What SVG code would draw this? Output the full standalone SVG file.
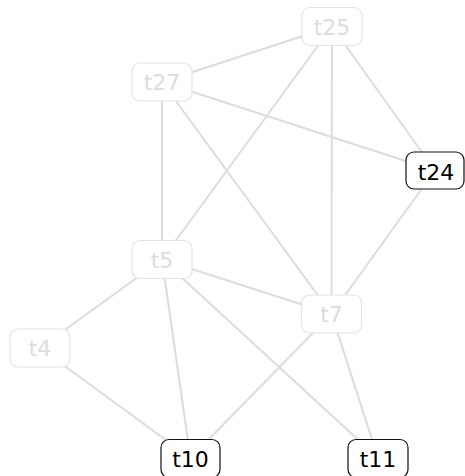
<svg xmlns="http://www.w3.org/2000/svg" width="465" height="476" viewBox="0 0 465 476">
<style>
.edge{stroke:#dcdcdc;stroke-width:2;fill:none}
.node rect{fill:#fff;stroke:#e3e3e3;stroke-width:1.2}
.node text{fill:#dcdcdc;font-family:"DejaVu Sans",sans-serif;font-size:22px;text-anchor:middle}
.node.on rect{stroke:#111;stroke-width:1.2}
.node.on text{fill:#000}
</style>
<rect width="465" height="476" fill="#fff"/>
<g id="edges">
<line class="edge" x1="332" y1="26.5" x2="162" y2="82"/>
<line class="edge" x1="332" y1="26.5" x2="162" y2="259.5"/>
<line class="edge" x1="332" y1="26.5" x2="331.5" y2="314"/>
<line class="edge" x1="332" y1="26.5" x2="435" y2="170.5"/>
<line class="edge" x1="162" y1="82" x2="435" y2="170.5"/>
<line class="edge" x1="162" y1="82" x2="162" y2="259.5"/>
<line class="edge" x1="162" y1="82" x2="331.5" y2="314"/>
<line class="edge" x1="435" y1="170.5" x2="331.5" y2="314"/>
<line class="edge" x1="162" y1="259.5" x2="331.5" y2="314"/>
<line class="edge" x1="162" y1="259.5" x2="40" y2="348"/>
<line class="edge" x1="162" y1="259.5" x2="190.5" y2="458"/>
<line class="edge" x1="162" y1="259.5" x2="378" y2="458"/>
<line class="edge" x1="331.5" y1="314" x2="190.5" y2="458"/>
<line class="edge" x1="331.5" y1="314" x2="378" y2="458"/>
<line class="edge" x1="40" y1="348" x2="190.5" y2="458"/>
</g>
<g id="t25" class="node"><rect x="302" y="7.5" width="60" height="38" rx="8"/><text x="332" y="34.5">t25</text></g>
<g id="t27" class="node"><rect x="132" y="63" width="60" height="38" rx="8"/><text x="162" y="90">t27</text></g>
<g id="t24" class="node on"><rect x="406" y="152" width="58" height="37" rx="8"/><text x="436" y="179.5">t24</text></g>
<g id="t5" class="node"><rect x="132" y="240.5" width="60" height="38" rx="8"/><text x="162" y="267.5">t5</text></g>
<g id="t4" class="node"><rect x="10" y="329" width="60" height="38" rx="8"/><text x="40" y="356">t4</text></g>
<g id="t7" class="node"><rect x="301.5" y="295" width="60" height="38" rx="8"/><text x="331.5" y="322">t7</text></g>
<g id="t10" class="node on"><rect x="161" y="439.5" width="59" height="38" rx="8"/><text x="190.5" y="467">t10</text></g>
<g id="t11" class="node on"><rect x="348" y="439.5" width="60" height="38" rx="8"/><text x="378" y="467">t11</text></g>
</svg>
